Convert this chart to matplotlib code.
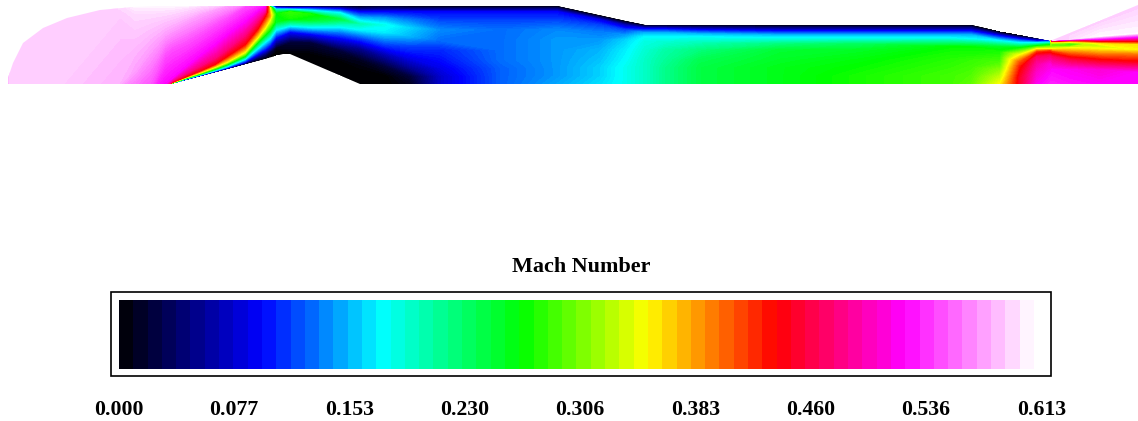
import numpy as np
import matplotlib
matplotlib.use('Agg')
import matplotlib.pyplot as plt
from matplotlib.colors import LinearSegmentedColormap
from matplotlib.patches import Polygon, Rectangle

title = 'Mach Number'
tick_labels = ['0.000', '0.077', '0.153', '0.230', '0.306', '0.383', '0.460', '0.536', '0.613']
mach_max = 0.613
scale_colors = ['#000000', '#0000ff', '#00ffff', '#00ff00', '#ffff00', '#ff0000', '#ff00ff', '#ffffff']
bar_stops = [0, .156, .288, .441, .577, .719, .857, 1]

# duct outline, picture pixels
wall_x = [8, 8, 13, 23, 43, 67, 100, 133, 157, 557, 645, 971, 1050, 1138, 1138, 360, 290, 283, 170]
wall_y = [84, 78, 63, 43, 28, 18, 10, 7, 6, 6, 25, 25, 41, 5, 84, 84, 54, 54, 84]

# inlet part, 13 points per station. from x=135 on the rows follow the same mach values
shock_m = [.61, .60, .58, .55, .525, .48, .438, .35, .263, .175, .0876, .03, 0]
inlet_x = [7, 10, 60, 120, 135, 150, 165, 172, 185, 200, 215, 227, 245, 258, 265, 270]
inlet_y = [
    [5, 12, 78, 84, 86, 87, 88, 89, 90, 91, 92, 93, 94],
    [5, 12, 85, 86, 87, 88, 89, 90, 91, 92, 93, 94, 95],
    [5, 12, 85, 86, 87, 88, 89, 90, 91, 92, 93, 94, 95],
    [5, 14, 84, 90, 100, 104, 106, 108, 110, 112, 114, 116, 118],
    [5, 14, 70, 100, 110, 112, 114, 116, 118, 120, 122, 124, 126],
    [5, 14, 48, 90, 98, 100, 102, 104, 106, 108, 110, 112, 114],
    [5, 13, 33, 56, 84, 88, 90, 92, 94, 96, 98, 100, 102],
    [5, 12, 29, 50, 78, 81, 82.5, 83, 83.5, 84, 84.5, 85, 85.5],
    [5, 9, 22, 44, 67, 74, 77, 78, 78.7, 79.3, 79.8, 80, 80.5],
    [5, 6, 15, 35, 55, 66, 70.7, 72.7, 74, 75, 75.7, 76, 76.5],
    [4, 4.5, 9.5, 25, 44, 58, 64, 67, 69, 70.5, 71.5, 72, 72.5],
    [3, 4, 5.5, 18, 34, 49, 56, 62, 64.5, 66.5, 68, 68.7, 69.2],
    [1, 2, 3, 6, 21, 35, 44, 52, 56, 59, 62, 63.5, 64],
    [0, 1, 2, 3, 10, 20, 28, 37, 42, 48, 54, 58, 61],
    [0, 1, 2, 3, 6, 12, 16, 28, 35, 42, 50, 55, 59],
    [0, 1, 2, 6, 8, 12, 16, 22, 30, 38, 46, 52, 57.5],
]
inlet_m = [
    [.595, .595, .58, .50, .59, .59, .59, .59, .59, .59, .59, .59, .59],
    [.595, .595, .595, .59, .59, .59, .59, .59, .59, .59, .59, .59, .59],
    [.595, .595, .595, .59, .59, .59, .59, .59, .59, .59, .59, .59, .59],
    [.60, .595, .585, .57, .56, .55, .55, .55, .55, .55, .55, .55, .55],
    shock_m, shock_m, shock_m, shock_m, shock_m, shock_m, shock_m, shock_m, shock_m, shock_m, shock_m,
    [.20, .20, .20, .20, .35, .37, .38, .33, .263, .175, .0876, .02, 0],
]

# rest of the duct, 10 points per station from the top wall down
duct_x = [270, 276, 290, 310, 340, 360, 385, 410, 440, 500, 557, 600, 625, 645, 665, 700, 780, 860, 950, 971,
          1000, 1020, 1037, 1050, 1052, 1070, 1100, 1138]
duct_y = [
    [6, 8, 12, 16, 22, 30, 38, 46, 52, 57.5],
    [5.5, 8, 10, 14, 22, 30, 38, 48, 52, 55],
    [6, 8, 10, 12, 18, 24, 32, 42, 48, 54],
    [6, 8, 10.5, 14, 20, 27, 34, 42, 55, 63],
    [6, 9, 13, 19, 25, 32, 38, 50, 62, 75],
    [6, 12, 18, 24, 30, 38, 48, 60, 72, 84],
    [6, 12, 18, 25, 32, 42, 55, 66, 76, 84],
    [6, 12, 20, 28, 36, 46, 58, 68, 76, 84],
    [6, 12, 20, 30, 40, 50, 60, 68, 76, 84],
    [6, 12, 20, 30, 40, 50, 60, 68, 76, 84],
    [6, 12, 20, 30, 40, 50, 60, 68, 76, 84],
    [15.5, 20, 25, 32, 40, 50, 60, 68, 76, 84],
    [21, 25, 30, 35, 40, 50, 60, 68, 76, 84],
    [25, 29, 33, 37, 42, 50, 60, 68, 76, 84],
    [25, 29, 33, 37, 42, 50, 60, 68, 76, 84],
    [25, 30, 34, 37, 43, 50, 60, 68, 76, 84],
    [25, 31, 35, 38, 44, 50, 60, 68, 76, 84],
    [25, 31, 35, 38, 44, 50, 60, 68, 76, 84],
    [25, 31, 35, 38, 47, 54, 60, 68, 76, 84],
    [25, 31, 35, 39, 47, 54, 60, 68, 76, 84],
    [32, 36, 41, 47, 52, 57, 63, 70, 77, 84],
    [35.5, 39, 43, 48, 55, 62, 67, 72, 78, 84],
    [38.7, 41, 43, 46, 49, 52, 57, 64, 72, 84],
    [41, 43, 45, 47, 49, 51, 56, 64, 74, 84],
    [40.2, 40.6, 42, 44, 46, 49, 52, 57, 70, 84],
    [33, 39, 41, 43, 45, 48, 54, 60, 70, 84],
    [21, 36, 39, 41, 43, 46, 50, 56, 70, 84],
    [5, 33, 37, 41, 44, 50, 55, 62, 73, 84],
]
duct_m = [
    [.20, .35, .37, .38, .33, .263, .175, .0876, .02, 0],
    [0, .10, .20, .263, .25, .17, .0876, .01, 0, 0],
    [0, .0876, .20, .28, .27, .20, .0876, .02, .01, 0],
    [0, .0876, .175, .27, .25, .175, .0876, .02, 0, 0],
    [0, .0876, .175, .24, .19, .13, .0876, .02, 0, 0],
    [0, .0876, .15, .20, .17, .11, .05, .01, 0, 0],
    [.01, .0876, .14, .18, .17, .12, .06, .02, 0, 0],
    [0, .0876, .13, .16, .15, .11, .08, .05, .02, .01],
    [0, .0876, .11, .135, .125, .10, .09, .08, .07, .07],
    [0, .0876, .11, .125, .125, .125, .125, .12, .12, .12],
    [0, .0876, .11, .135, .14, .14, .14, .14, .14, .145],
    [0, .08, .11, .13, .14, .15, .155, .16, .16, .165],
    [0, .06, .11, .14, .16, .17, .175, .18, .18, .18],
    [0, .0876, .15, .175, .185, .19, .195, .195, .195, .195],
    [0, .0876, .15, .175, .19, .205, .21, .215, .215, .215],
    [0, .0876, .15, .175, .20, .22, .235, .24, .24, .24],
    [0, .0876, .15, .175, .22, .245, .25, .255, .255, .255],
    [0, .0876, .15, .175, .23, .25, .26, .265, .27, .27],
    [0, .0876, .15, .175, .263, .27, .275, .28, .285, .285],
    [0, .0876, .15, .175, .263, .27, .28, .285, .29, .295],
    [0, .0876, .175, .25, .27, .28, .29, .31, .33, .35],
    [0, .0876, .175, .263, .35, .41, .43, .44, .45, .45],
    [.02, .0876, .175, .263, .35, .42, .47, .49, .505, .52],
    [.10, .20, .263, .31, .35, .42, .47, .51, .525, .535],
    [.595, .50, .36, .30, .30, .35, .42, .47, .525, .535],
    [.595, .60, .40, .30, .27, .35, .41, .46, .52, .53],
    [.595, .61, .525, .44, .36, .33, .36, .41, .51, .525],
    [.595, .61, .525, .44, .36, .35, .40, .44, .525, .525],
]

fig = plt.figure(figsize=(11.38, 4.21), dpi=100)
ax = fig.add_axes([0, 0, 1, 1])
ax.axis('off')

field_cmap = LinearSegmentedColormap.from_list('mach_smooth', scale_colors, N=512)
bar_cmap = LinearSegmentedColormap.from_list('mach_bar', list(zip(bar_stops, scale_colors)), N=512)
levels = np.linspace(0, mach_max, 200)
outline = Polygon(np.column_stack([wall_x, wall_y]), closed=True, transform=ax.transData)

for xs, ys, ms in [(inlet_x, inlet_y, inlet_m), (duct_x, duct_y, duct_m)]:
    Y = np.array(ys, dtype=float)
    X = np.repeat(np.array(xs, dtype=float)[:, None], Y.shape[1], axis=1)
    cs = ax.contourf(X, Y, np.array(ms, dtype=float), levels=levels, cmap=field_cmap, vmin=0, vmax=mach_max,
                     antialiased=False)
    cs.set_clip_path(outline)

# legend bar, 64 bands. last one stays just short of white
bands = (np.arange(64) + 0.5) / 64 * mach_max
ax.imshow(bands[None, :], cmap=bar_cmap, vmin=0, vmax=mach_max, aspect='auto',
          interpolation='nearest', extent=(119, 1034, 369, 300))
ax.add_patch(Rectangle((111, 292), 940, 84, fill=False, edgecolor='black', linewidth=1.2))
ax.set_xlim(0, 1138)
ax.set_ylim(421, 0)

ax.text(581, 267, title, ha='center', va='center', family='Liberation Serif', weight='bold', fontsize=15.9)
for px, lab in zip(np.linspace(118.5, 1041.5, len(tick_labels)), tick_labels):
    ax.text(px, 410, lab, ha='center', va='center', family='Liberation Serif', weight='bold', fontsize=15.7)

fig.savefig('out.png', dpi=100)
